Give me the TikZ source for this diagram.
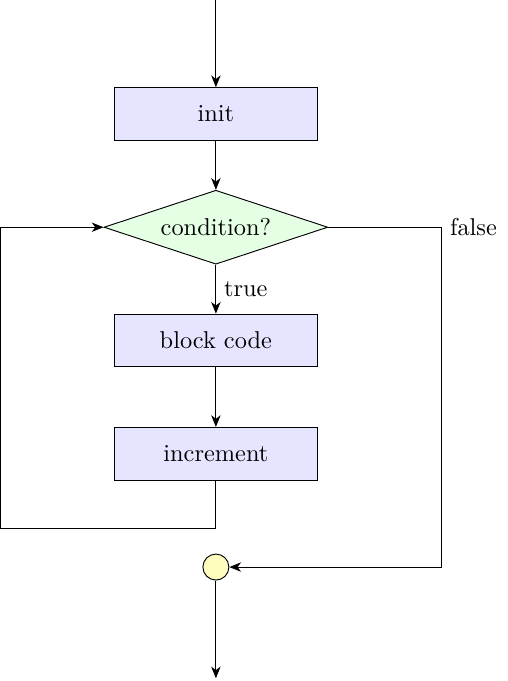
\documentclass[tikz,border=0pt]{standalone}
\usetikzlibrary{shapes.geometric,arrows.meta}

\tikzset{
	stepbox/.style={draw,fill=blue!10,minimum width=3.05cm,minimum height=0.79cm},
	decision/.style={draw,diamond,aspect=3,fill=green!10,inner sep=1pt,minimum width=3.36cm,minimum height=1.11cm},
	joint/.style={draw,circle,fill=yellow!25,minimum size=0.39cm,inner sep=0pt},
	arr/.style={-{Stealth[length=5pt,width=4pt,inset=1.5pt]}}
}

\begin{document}
\begin{tikzpicture}[font=\fontsize{10.4}{12.5}\selectfont]
	\useasboundingbox (-3.24,1.71) rectangle (4.38,-8.51);
	\node[stepbox](init) at (0,0) {init};
	\node[decision](cond) at (0,-1.7) {condition?};
	\node[stepbox](block) at (0,-3.4) {block code};
	\node[stepbox](incr) at (0,-5.1) {increment};
	\node[joint](join) at (0,-6.8) {};
	\coordinate(start) at (0,1.71);
	\coordinate(stop) at (0,-8.47);
	\coordinate(loopL) at (-3.23,-6.22);
	\coordinate[label=right:false](falseR) at (3.39,-1.7);
	\draw[arr] (start)--(init);
	\draw[arr] (init)--(cond);
	\draw[arr] (cond)--node[right]{true}(block);
	\draw[arr] (block)--(incr);
	\draw[arr] (incr.south)|-(loopL)|-(cond.west);
	\draw[arr] (cond.east)-|(falseR)|-(join.east);
	\draw[arr] (join)--(stop);
\end{tikzpicture}
\end{document}
